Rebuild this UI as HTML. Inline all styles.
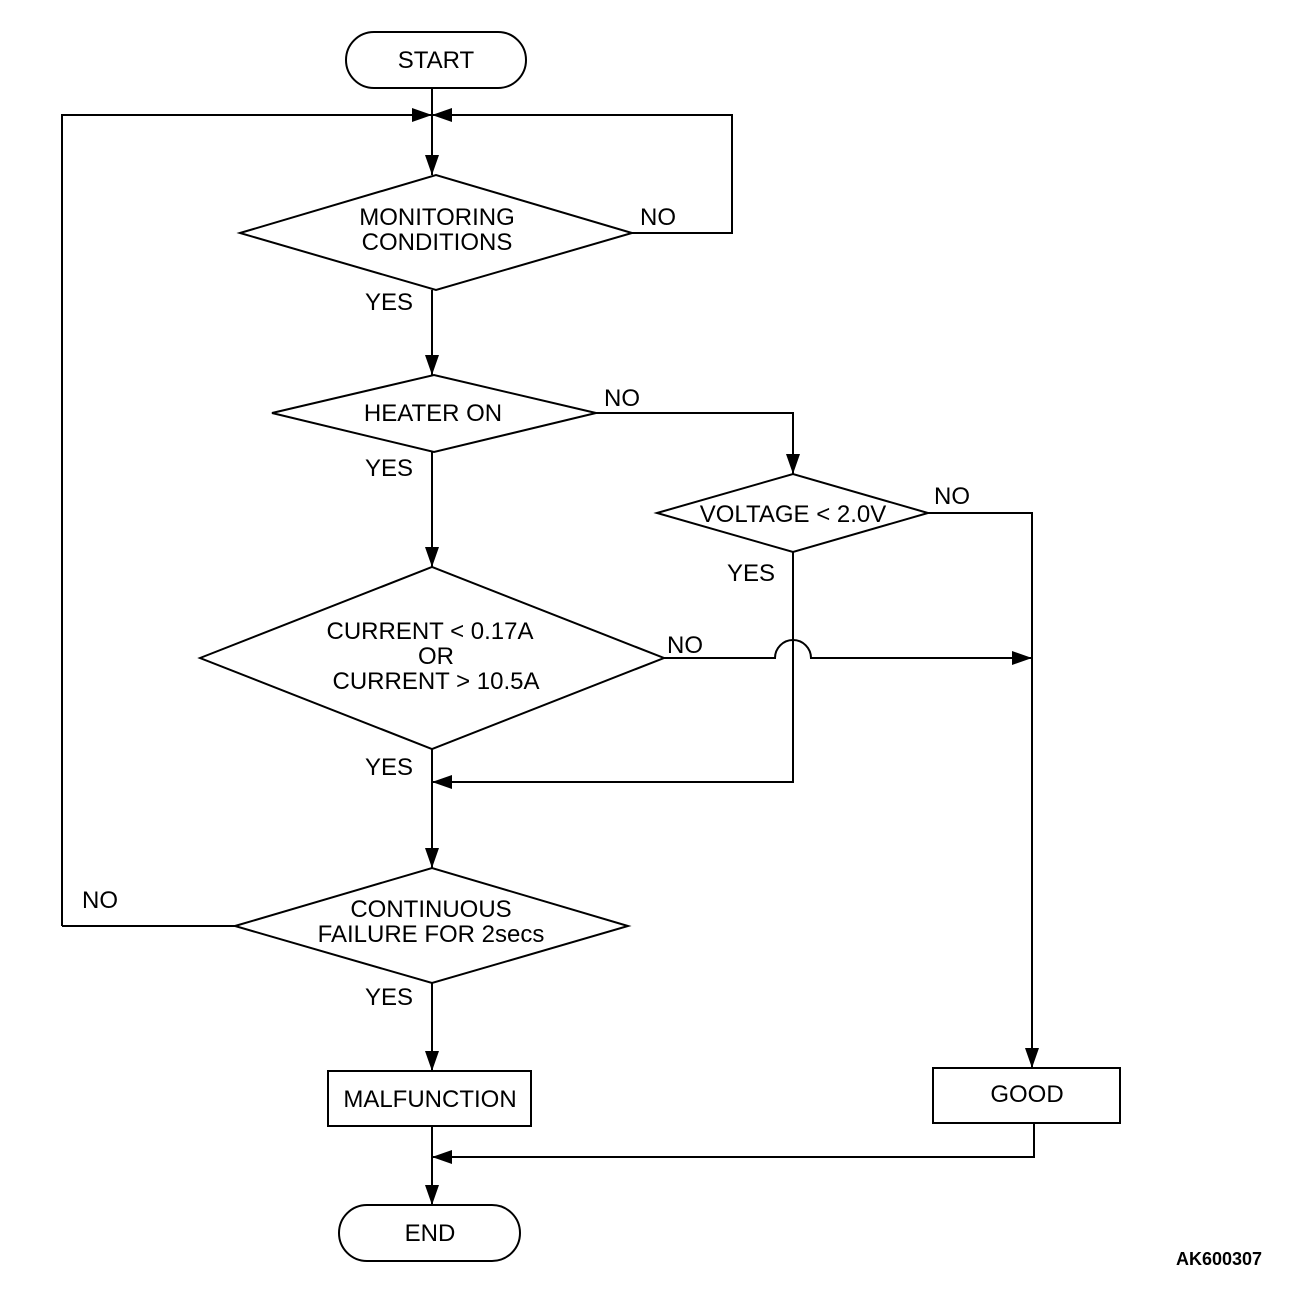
<!DOCTYPE html>
<html><head><meta charset="utf-8"><style>html,body{margin:0;padding:0;background:#fff}svg{display:block}text{font-family:"Liberation Sans",Arial,sans-serif;font-size:24px;fill:#000}</style></head><body>
<svg width="1312" height="1314" viewBox="0 0 1312 1314" xmlns="http://www.w3.org/2000/svg">
<defs><marker id="a" markerWidth="20" markerHeight="14" refX="20" refY="7" orient="auto" markerUnits="userSpaceOnUse"><path d="M0,0 L20,7 L0,14 z" fill="#000"/></marker></defs>
<g fill="none" stroke="#000" stroke-width="2">
<rect x="346" y="32" width="180" height="56" rx="28"/>
<line x1="432" y1="88" x2="432" y2="115"/>
<polyline points="62,926 62,115 432,115" marker-end="url(#a)"/>
<polyline points="632,233 732,233 732,115 432,115" marker-end="url(#a)"/>
<line x1="432" y1="115" x2="432" y2="175" marker-end="url(#a)"/>
<polygon points="240,233 436,175 632,233 436,290"/>
<line x1="432" y1="290" x2="432" y2="375" marker-end="url(#a)"/>
<polygon points="272,413 434,375 596,413 434,452"/>
<polyline points="596,413 793,413 793,474" marker-end="url(#a)"/>
<polygon points="657,513 793,474 928,513 793,552"/>
<polyline points="928,513 1032,513 1032,1068" marker-end="url(#a)"/>
<polyline points="793,552 793,782 432,782" marker-end="url(#a)"/>
<line x1="432" y1="452" x2="432" y2="567" marker-end="url(#a)"/>
<polygon points="200,658 432,567 664,658 432,749"/>
<path d="M664,658 L775,658 A18,18 0 0 1 811,658 L1032,658" marker-end="url(#a)"/>
<line x1="432" y1="749" x2="432" y2="868" marker-end="url(#a)"/>
<polygon points="235,926 432,868 628,926 432,983"/>
<line x1="235" y1="926" x2="62" y2="926"/>
<line x1="432" y1="983" x2="432" y2="1071" marker-end="url(#a)"/>
<rect x="328" y="1071" width="203" height="55"/>
<rect x="933" y="1068" width="187" height="55"/>
<polyline points="1034,1123 1034,1157 432,1157" marker-end="url(#a)"/>
<line x1="432" y1="1126" x2="432" y2="1205" marker-end="url(#a)"/>
<rect x="339" y="1205" width="181" height="56" rx="28"/>
</g>
<g text-anchor="middle">
<text x="436" y="68">START</text>
<text x="437" y="225">MONITORING</text>
<text x="437" y="250">CONDITIONS</text>
<text x="433" y="421">HEATER ON</text>
<text x="793" y="522">VOLTAGE &lt; 2.0V</text>
<text x="430" y="639">CURRENT &lt; 0.17A</text>
<text x="436" y="664">OR</text>
<text x="436" y="689">CURRENT &gt; 10.5A</text>
<text x="431" y="917">CONTINUOUS</text>
<text x="431" y="942">FAILURE FOR 2secs</text>
<text x="430" y="1107">MALFUNCTION</text>
<text x="1027" y="1102">GOOD</text>
<text x="430" y="1241">END</text>
</g>
<text x="640" y="225">NO</text>
<text x="365" y="310">YES</text>
<text x="604" y="406">NO</text>
<text x="365" y="476">YES</text>
<text x="934" y="504">NO</text>
<text x="727" y="581">YES</text>
<text x="667" y="653">NO</text>
<text x="365" y="775">YES</text>
<text x="82" y="908">NO</text>
<text x="365" y="1005">YES</text>
<text x="1176" y="1265" style="font-size:18px;font-weight:bold">AK600307</text>
</svg>
</body></html>
